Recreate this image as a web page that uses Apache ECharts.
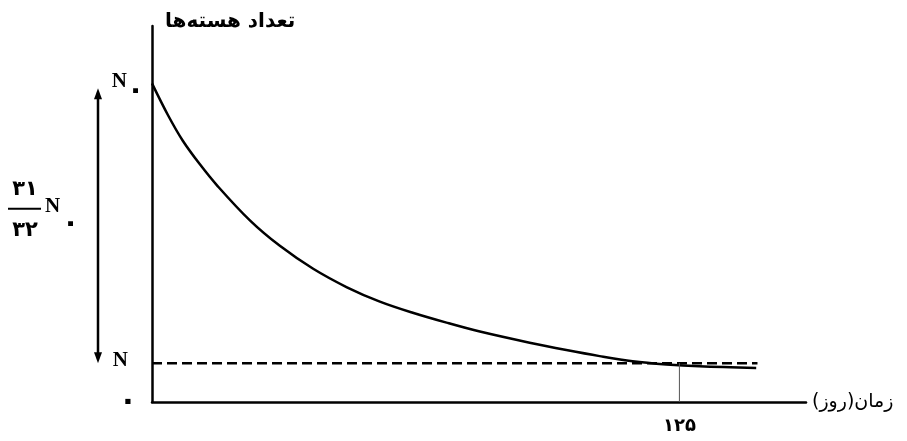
<!DOCTYPE html>
<html>
<head>
<meta charset="utf-8">
<script src="https://cdn.jsdelivr.net/npm/echarts@6/dist/echarts.min.js"></script>
<style>
html,body{margin:0;padding:0;background:#fff;}
#c{width:907px;height:441px;}
</style>
</head>
<body>
<div id="c"></div>
<script>
// ---- data ----
const days   = [0, 3.8, 7.3, 11.4, 15.4, 23.2, 30.3, 38.2, 46.2, 54.0, 61.8, 69.8, 77.7, 89.5, 98.2, 106.1, 113.9, 121.9, 129.7, 143.2];
const nuclei = [100, 90.0, 82.0, 74.5, 68.0, 57.0, 49.0, 41.8, 36.0, 31.5, 28.0, 24.9, 22.1, 18.6, 16.3, 14.4, 12.8, 11.8, 11.2, 10.7];
const n0Level = 100;          // N0
const nLevel = 12.2;          // N (remaining)
const dashedDays = [0, 143.5];
const tickDay = 125;
const tickLabel = '۱۲۵';
const xName = 'زمان(روز)';
const yName = 'تعداد هسته‌ها';
const fracTop = '۳۱';
const fracBottom = '۳۲';

const curve = days.map((d, i) => [d, nuclei[i]]);
const dashed = dashedDays.map(d => [d, nLevel]);
const vline = [[tickDay, 0], [tickDay, nLevel]];

const chart = echarts.init(document.getElementById('c'));
const option = {
  animation: false,
  backgroundColor: '#fff',
  grid: { left: 152, right: 101, top: 26, bottom: 39 },
  xAxis: {
    type: 'value', min: 0, max: 155,
    name: xName, nameLocation: 'end', nameGap: 6,
    nameTextStyle: { fontFamily: 'DejaVu Sans', fontSize: 19, color: '#000' },
    axisLine: { lineStyle: { color: '#000', width: 2.5 } },
    axisTick: { show: false },
    splitLine: { show: false },
    axisLabel: {
      customValues: [tickDay],
      formatter: () => tickLabel,
      margin: 15, fontFamily: 'DejaVu Sans', fontWeight: 'bold', fontSize: 18, color: '#000'
    }
  },
  yAxis: {
    type: 'value', min: 0, max: 118,
    name: yName, nameLocation: 'end', nameGap: -6,
    nameTextStyle: { fontFamily: 'DejaVu Sans', fontWeight: 'bold', fontSize: 20, color: '#000', align: 'left', verticalAlign: 'bottom', padding: [0, 0, 0, 13] },
    axisLine: { lineStyle: { color: '#000', width: 2.5 } },
    axisTick: { show: false },
    splitLine: { show: false },
    axisLabel: {
      customValues: [0, nLevel, n0Level],
      margin: 8,
      formatter: v => v === n0Level ? '{n|N}{s|۰}' : (v === 0 ? '{z|۰}' : '{m|N}'),
      rich: {
        n: { fontFamily: 'Liberation Serif', fontWeight: 'bold', fontSize: 21, color: '#000', padding: [0, 0, 4, 0] },
        m: { fontFamily: 'Liberation Serif', fontWeight: 'bold', fontSize: 21, color: '#000', padding: [0, 16, 6, 0] },
        s: { fontFamily: 'DejaVu Sans', fontWeight: 'bold', fontSize: 28, color: '#000', padding: [14, 0, 0, 0] },
        z: { fontFamily: 'DejaVu Sans', fontWeight: 'bold', fontSize: 30, color: '#000', padding: [0, 7, 0, 0] }
      }
    }
  },
  series: [
    { type: 'line', data: curve, smooth: 0.35, symbol: 'none', lineStyle: { color: '#000', width: 2.5 } },
    { type: 'line', data: dashed, symbol: 'none', lineStyle: { color: '#000', width: 2.5, type: [10, 5] } },
    { type: 'line', data: vline, symbol: 'none', lineStyle: { color: '#555', width: 1 } }
  ]
};
chart.setOption(option);

// annotation arrow & fraction, positioned from the axis scale
const pTop = chart.convertToPixel({ gridIndex: 0 }, [0, n0Level]);
const pBot = chart.convertToPixel({ gridIndex: 0 }, [0, nLevel]);
const ax = pTop[0] - 54;
const yT = pTop[1] + 5, yB = pBot[1];
const mid = (yT + yB) / 2 - 17;
chart.setOption({
  graphic: [
    { type: 'line', shape: { x1: ax, y1: yT + 8, x2: ax, y2: yB - 8 }, style: { stroke: '#000', lineWidth: 2.5 } },
    { type: 'polygon', shape: { points: [[ax, yT], [ax - 4, yT + 11], [ax + 4, yT + 11]] }, style: { fill: '#000' } },
    { type: 'polygon', shape: { points: [[ax, yB], [ax - 4, yB - 11], [ax + 4, yB - 11]] }, style: { fill: '#000' } },
    { type: 'text', x: 25, y: mid - 19, style: { text: fracTop, font: 'bold 21px "DejaVu Sans"', fill: '#000', align: 'center', verticalAlign: 'middle' } },
    { type: 'line', shape: { x1: 8, y1: mid, x2: 41, y2: mid }, style: { stroke: '#000', lineWidth: 2 } },
    { type: 'text', x: 25, y: mid + 22, style: { text: fracBottom, font: 'bold 21px "DejaVu Sans"', fill: '#000', align: 'center', verticalAlign: 'middle' } },
    { type: 'text', x: 45, y: mid - 2, style: { text: 'N', font: 'bold 21px "Liberation Serif"', fill: '#000', align: 'left', verticalAlign: 'middle' } },
    { type: 'text', x: 62, y: mid + 15, style: { text: '۰', font: 'bold 28px "DejaVu Sans"', fill: '#000', align: 'left', verticalAlign: 'middle' } }
  ]
});
</script>
</body>
</html>
